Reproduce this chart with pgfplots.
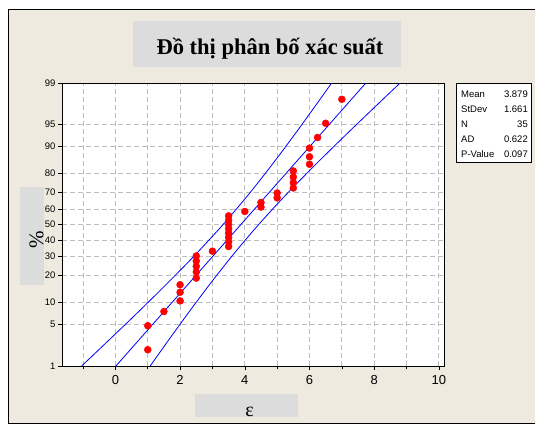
\documentclass[border=0pt]{standalone}
\usepackage{fontspec}
\setmainfont{Liberation Serif}
\setsansfont{Liberation Sans}
\usepackage{pgfplots}
\pgfplotsset{compat=1.18}
\definecolor{bgbeige}{RGB}{238,234,224}
\definecolor{boxgray}{RGB}{220,220,220}
\definecolor{gridgray}{RGB}{190,190,190}
\begin{document}
\begin{tikzpicture}
\useasboundingbox (0pt,0pt) rectangle (535pt,424pt);
\fill[white] (0pt,0pt) rectangle (535pt,424pt);
\fill[bgbeige] (8.5pt,1pt) rectangle (535pt,414pt);
\draw[black, line width=1pt] (537pt,414pt) -- (8.5pt,414pt) -- (8.5pt,1pt) -- (537pt,1pt);
\fill[boxgray] (133pt,357pt) rectangle (401pt,403pt);
\node[font=\bfseries\fontsize{22.5}{22.5}\selectfont, anchor=base, inner sep=0pt] at (270pt,369pt) {Đồ thị phân bố xác suất};
\fill[boxgray] (20pt,139pt) rectangle (44pt,237pt);
\node[rotate=90, font=\fontsize{21}{21}\selectfont] at (36.5pt,184pt) {\%};
\fill[boxgray] (194.5pt,7pt) rectangle (297.6pt,30pt);
\node[font=\fontsize{20}{20}\selectfont, anchor=base, inner sep=0pt] at (249.5pt,8pt) {ε};
\begin{axis}[at={(62pt,58pt)}, anchor=south west, scale only axis,
  width=382pt, height=283pt,
  xmin=-1.651, xmax=10.158, ymin=-2.3263, ymax=2.3263,
  axis background/.style={fill=white},
  xtick={0,2,4,6,8,10}, minor xtick={-1,1,3,5,7,9},
  ytick={-2.3263,-1.6449,-1.2816,-0.8416,-0.5244,-0.2533,0,0.2533,0.5244,0.8416,1.2816,1.6449,2.3263},
  yticklabels={1,5,10,20,30,40,50,60,70,80,90,95,99},
  grid=both,
  major grid style={gridgray, dash pattern=on 5pt off 3pt, line width=0.8pt},
  minor grid style={gridgray, dash pattern=on 5pt off 3pt, line width=0.8pt},
  tick pos=left, tick align=outside, major tick length=4pt, minor tick length=3pt,
  tick style={black, line width=0.6pt},
  axis line style={black, line width=1pt},
  /pgf/number format/assume math mode=true,
  xticklabel style={font=\sffamily\fontsize{13}{13}\selectfont, yshift=-2pt},
  yticklabel style={font=\sffamily\fontsize{9.5}{9.5}\selectfont, xshift=1pt},
]
% fitted line
\addplot[blue, line width=0.8pt] coordinates {(0.0155,-2.3263) (7.7425,2.3263)};
% confidence bands
\addplot[blue, line width=0.8pt, smooth] coordinates {
(-1.0438,-2.3263) (-0.3961,-2) (0.5853,-1.5) (1.544,-1) (2.4648,-0.5) (3.3287,0)
(4.1258,0.5) (4.866,1) (5.5683,1.5) (6.2479,2) (6.6832,2.3263)};
\addplot[blue, line width=0.8pt, smooth] coordinates {
(1.0748,-2.3263) (1.5101,-2) (2.1897,-1.5) (2.892,-1) (3.6322,-0.5) (4.4293,0)
(5.2932,0.5) (6.214,1) (7.1727,1.5) (8.1541,2) (8.8018,2.3263)};
% data points
\addplot[only marks, mark=*, mark size=3.5pt, color=red, fill=red] coordinates {
(1,-2.0585) (1,-1.6644) (1.5,-1.4306) (2,-1.2562) (2,-1.1134) (2,-0.9903)
(2.5,-0.8806) (2.5,-0.7806) (2.5,-0.6879) (2.5,-0.6007) (2.5,-0.5179)
(3,-0.4385)
(3.5,-0.3618) (3.5,-0.2871) (3.5,-0.2141) (3.5,-0.1421) (3.5,-0.0709) (3.5,0) (3.5,0.0709) (3.5,0.1421)
(4,0.2141) (4.5,0.2871) (4.5,0.3618) (5,0.4385) (5,0.5179)
(5.5,0.6007) (5.5,0.6879) (5.5,0.7806) (5.5,0.8806)
(6,0.9903) (6,1.1134) (6,1.2562) (6.25,1.4306) (6.5,1.6644) (7,2.0585)};
\end{axis}
\draw[fill=white, line width=0.8pt] (456.7pt,261.7pt) rectangle (531.7pt,340.7pt);
\begin{scope}[every node/.style={font=\sffamily\fontsize{9.5}{9.5}\selectfont, inner sep=0pt}]
\node[anchor=west] at (461pt,330pt) {Mean};    \node[anchor=east] at (528pt,330pt) {3.879};
\node[anchor=west] at (461pt,315pt) {StDev};   \node[anchor=east] at (528pt,315pt) {1.661};
\node[anchor=west] at (461pt,300pt) {N};       \node[anchor=east] at (528pt,300pt) {35};
\node[anchor=west] at (461pt,285pt) {AD};      \node[anchor=east] at (528pt,285pt) {0.622};
\node[anchor=west] at (461pt,270pt) {P-Value}; \node[anchor=east] at (528pt,270pt) {0.097};
\end{scope}
\end{tikzpicture}
\end{document}
